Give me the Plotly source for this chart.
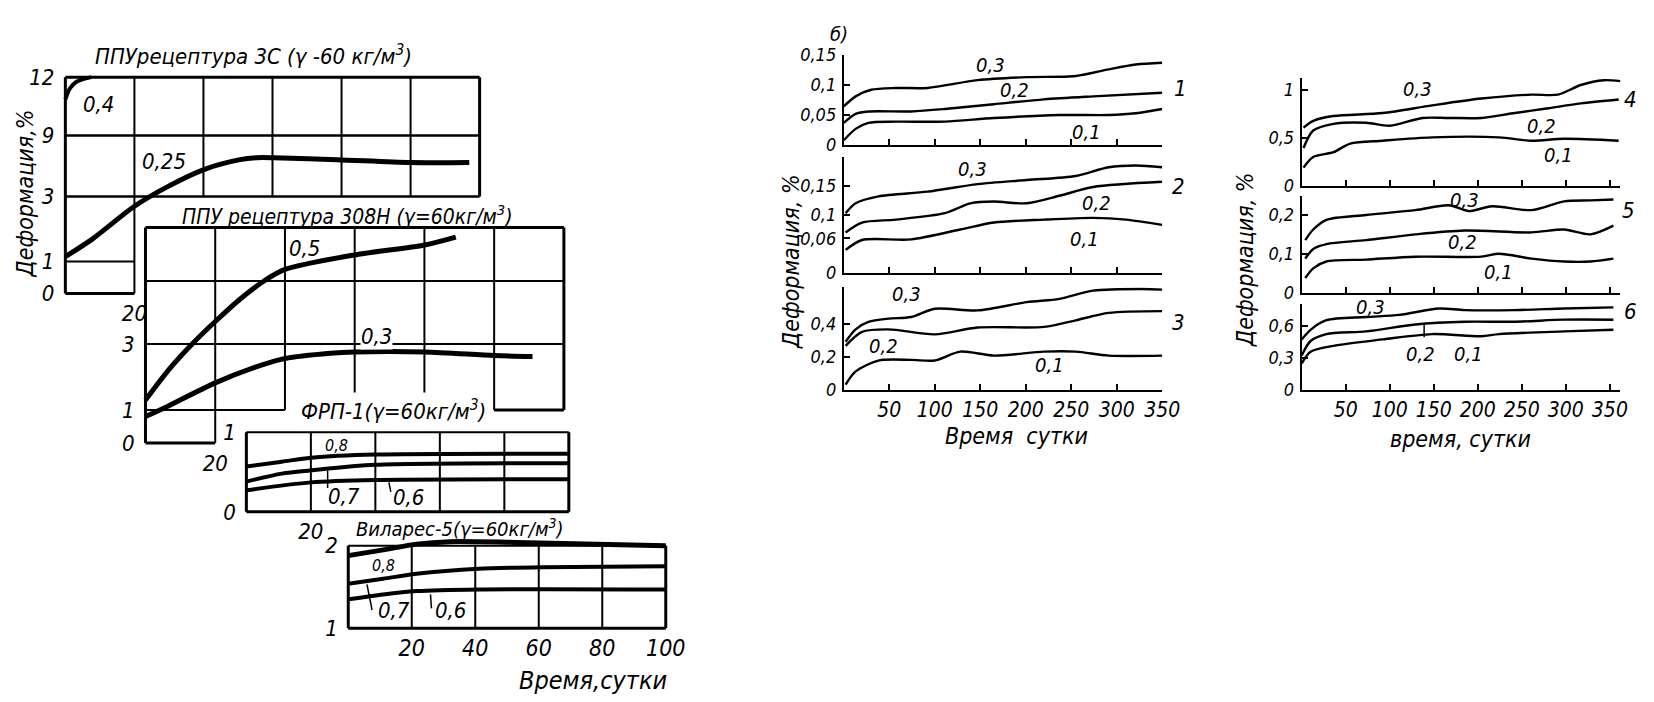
import numpy as np
import plotly.graph_objects as go

W, H = 1654, 702
FONT = "DejaVu Sans Condensed, DejaVu Sans, sans-serif"

# ---------------- data ----------------
# (a) ППУ рецептура 3С : nonlinear deformation scale
A_yticks = [0, 1, 3, 9, 12]
A_ytick_pos = [0, 1, 3.03, 4.94, 6.76]
A_days_04 = [0, 1.25, 3.1, 7.5]
A_def_04 = [10.85, 11.4, 11.75, 12.0]
A_days_025 = [0, 7.8, 20, 29.5, 40.3, 50.6, 55.4, 60.3, 78.6, 100, 117]
A_def_025 = [1.15, 1.69, 2.70, 3.95, 5.67, 6.62, 6.81, 6.81, 6.62, 6.33, 6.33]

# ППУ рецептура 308Н
B_yticks = [0, 1, 3]
B_days_05 = [0, 7, 13.4, 20, 27, 34, 40, 60, 80, 89]
B_def_05 = [1.3, 2.26, 3.0, 3.68, 4.35, 4.91, 5.26, 5.7, 6.0, 6.24]
B_days_03 = [0, 6, 20, 33, 40, 53, 60, 80, 100, 111]
B_def_03 = [0.8, 1.09, 1.82, 2.35, 2.56, 2.72, 2.76, 2.76, 2.65, 2.62]

# ФРП-1
C_yticks = [0, 1]
C_days_08 = [0, 11, 20, 40, 100]
C_def_08 = [0.57, 0.63, 0.68, 0.72, 0.73]
C_days_07 = [0, 11, 20, 40, 100]
C_def_07 = [0.38, 0.48, 0.52, 0.59, 0.61]
C_days_06 = [0, 20, 40, 100]
C_def_06 = [0.27, 0.37, 0.40, 0.41]

# Виларес-5
D_yticks = [1, 2]
D_xticks = [20, 40, 60, 80, 100]
D_days_08 = [0, 11, 21.5, 32, 53, 100]
D_def_08 = [1.88, 1.95, 2.02, 2.05, 2.04, 2.0]
D_days_07 = [0, 11, 21.5, 41, 61, 100]
D_def_07 = [1.54, 1.6, 1.66, 1.72, 1.74, 1.75]
D_days_06 = [0, 11, 21.5, 41, 100]
D_def_06 = [1.35, 1.41, 1.45, 1.47, 1.47]

# (б) panels 1..6, load 0.3 / 0.2 / 0.1
p1_d03 = [0, 13, 30, 57, 92, 147, 201, 255, 291, 321, 350]
p1_v03 = [0.0645, 0.081, 0.092, 0.095, 0.095, 0.108, 0.113, 0.115, 0.126, 0.134, 0.137]
p1_d02 = [0, 13, 27, 74, 111, 165, 220, 274, 350]
p1_v02 = [0.037, 0.052, 0.056, 0.056, 0.06, 0.068, 0.076, 0.081, 0.087]
p1_d01 = [0, 13, 27, 57, 111, 165, 237, 291, 321, 350]
p1_v01 = [0.008, 0.027, 0.037, 0.039, 0.039, 0.045, 0.05, 0.05, 0.053, 0.06]

p2_d03 = [2, 13, 38, 92, 147, 201, 255, 291, 321, 350]
p2_v03 = [0.103, 0.12, 0.132, 0.14, 0.153, 0.16, 0.167, 0.182, 0.185, 0.182]
p2_d02 = [2, 20, 57, 111, 139, 165, 201, 237, 274, 350]
p2_v02 = [0.07, 0.087, 0.092, 0.103, 0.12, 0.123, 0.12, 0.133, 0.148, 0.157]
p2_d01 = [2, 20, 74, 128, 165, 220, 274, 310, 350]
p2_v01 = [0.04, 0.057, 0.058, 0.075, 0.087, 0.092, 0.095, 0.092, 0.083]

p3_d03 = [2, 13, 27, 49, 74, 100, 147, 201, 237, 274, 328, 350]
p3_v03 = [0.29, 0.365, 0.41, 0.43, 0.44, 0.49, 0.48, 0.53, 0.55, 0.6, 0.61, 0.606]
p3_d02 = [2, 20, 49, 100, 147, 220, 255, 291, 350]
p3_v02 = [0.265, 0.35, 0.365, 0.335, 0.376, 0.38, 0.42, 0.465, 0.476]
p3_d01 = [2, 13, 38, 74, 100, 128, 165, 220, 255, 291, 350]
p3_v01 = [0.03, 0.11, 0.176, 0.18, 0.176, 0.23, 0.206, 0.23, 0.23, 0.206, 0.206]

p4_d03 = [2, 13, 36, 92, 148, 204, 261, 291, 317, 343, 362]
p4_v03 = [0.606, 0.677, 0.727, 0.758, 0.838, 0.909, 0.95, 0.95, 1.05, 1.10, 1.09]
p4_d02 = [2, 13, 36, 73, 100, 137, 167, 204, 242, 280, 317, 360]
p4_v02 = [0.394, 0.576, 0.646, 0.657, 0.626, 0.707, 0.707, 0.707, 0.758, 0.808, 0.859, 0.899]
p4_d01 = [2, 13, 36, 55, 92, 148, 224, 261, 298, 360]
p4_v01 = [0.19, 0.30, 0.35, 0.44, 0.47, 0.505, 0.505, 0.47, 0.49, 0.47]

p5_d03 = [4, 13, 28, 73, 129, 167, 190, 216, 261, 298, 328, 354]
p5_v03 = [0.135, 0.1625, 0.1875, 0.2, 0.2125, 0.225, 0.21, 0.2225, 0.2125, 0.235, 0.2375, 0.24]
p5_d02 = [4, 13, 28, 73, 129, 185, 261, 298, 328, 354]
p5_v02 = [0.0875, 0.1125, 0.125, 0.135, 0.15, 0.16, 0.155, 0.1625, 0.15, 0.1725]
p5_d01 = [4, 13, 28, 73, 129, 204, 224, 261, 298, 328, 354]
p5_v01 = [0.0375, 0.0625, 0.08, 0.085, 0.0925, 0.0925, 0.1, 0.0875, 0.08, 0.08, 0.0875]

p6_d03 = [0, 10, 28, 73, 111, 156, 185, 242, 298, 354]
p6_v03 = [0.47, 0.56, 0.65, 0.68, 0.70, 0.76, 0.745, 0.745, 0.76, 0.77]
p6_d02 = [0, 10, 28, 73, 129, 185, 242, 298, 354]
p6_v02 = [0.32, 0.455, 0.52, 0.545, 0.61, 0.636, 0.636, 0.655, 0.655]
p6_d01 = [0, 10, 36, 92, 148, 204, 224, 298, 354]
p6_v01 = [0.245, 0.355, 0.41, 0.47, 0.52, 0.50, 0.52, 0.545, 0.56]

right_xticks = [50, 100, 150, 200, 250, 300, 350]

# ---------------- helpers ----------------
def xdom(pix, v0, ppu, r0, r1):
    return [(pix + (r0 - v0) * ppu) / W, (pix + (r1 - v0) * ppu) / W]

def ydom(pix, v0, ppu, r0, r1):
    return [1 - (pix - (r0 - v0) * ppu) / H, 1 - (pix - (r1 - v0) * ppu) / H]

def a_pos(v):
    return np.interp(v, A_yticks, A_ytick_pos)

def fmt(v):
    return ("%g" % v).replace(".", ",")

fig = go.Figure()
layout = {}
shapes = []
annotations = []

def line_trace(i, xs, ys, w):
    fig.add_trace(go.Scatter(
        x=xs, y=ys, mode="lines",
        line=dict(color="black", width=w, shape="spline", smoothing=0.8),
        xaxis="x" if i == 1 else "x%d" % i,
        yaxis="y" if i == 1 else "y%d" % i,
        showlegend=False, hoverinfo="skip"))

def seg(i, x0, y0, x1, y1, w=2):
    shapes.append(dict(type="line", xref="x" if i == 1 else "x%d" % i,
                       yref="y" if i == 1 else "y%d" % i,
                       x0=x0, y0=y0, x1=x1, y1=y1,
                       line=dict(color="black", width=w)))

def ann(text, px, py, size=18, angle=0, bg=None):
    d = dict(text=text, x=px / W, y=1 - py / H, xref="paper", yref="paper",
             showarrow=False, xanchor="center", yanchor="middle", textangle=angle,
             font=dict(family=FONT, size=size, color="black", style="italic"))
    if bg:
        d["bgcolor"] = bg
        d["borderpad"] = 0
    annotations.append(d)

def set_axes(i, xd, yd, xr, yr, xtv, xtt, ytv, ytt, right=False,
             showx=True, xfs=20, yfs=20):
    xk = "xaxis" if i == 1 else "xaxis%d" % i
    yk = "yaxis" if i == 1 else "yaxis%d" % i
    common = dict(showgrid=False, zeroline=False, fixedrange=True)
    xa = dict(domain=xd, range=xr, anchor="y" if i == 1 else "y%d" % i,
              tickvals=xtv, ticktext=xtt, showticklabels=showx,
              tickfont=dict(family=FONT, size=xfs, color="black", style="italic"),
              **common)
    ya = dict(domain=yd, range=yr, anchor="x" if i == 1 else "x%d" % i,
              tickvals=ytv, ticktext=ytt,
              tickfont=dict(family=FONT, size=yfs, color="black", style="italic"),
              **common)
    if right:
        for a in (xa, ya):
            a.update(showline=True, linecolor="black", linewidth=2,
                     ticks="inside", ticklen=6, tickwidth=1.5, tickcolor="black")
        ya["ticklabelstandoff"] = 2
    else:
        for a in (xa, ya):
            a.update(showline=False, ticks="")
        ya["ticklabelstandoff"] = 3
    layout[xk] = xa
    layout[yk] = ya

# ---------------- panel A ----------------
set_axes(1, xdom(58, 0, 3.49, -2, 122), ydom(283, 0, 33, -0.15, 6.95),
         [-2, 122], [-0.15, 6.95], [20], ["20"],
         list(a_pos(A_yticks)), [str(v) for v in A_yticks], xfs=22, yfs=22)
A_xgrid = [0, 20, 40, 60, 80, 100, 120]
for xg in A_xgrid:
    lo = 0 if xg <= 20 else 3
    seg(1, xg, a_pos(lo), xg, a_pos(12), 3 if xg in (0, 120) else 2)
for yg in [12, 9, 3]:
    seg(1, 0, a_pos(yg), 120, a_pos(yg), 3 if yg == 12 else 2.5)
seg(1, 0, a_pos(1), 20, a_pos(1), 2)
seg(1, 0, a_pos(0), 20, a_pos(0), 3)
line_trace(1, A_days_04, a_pos(A_def_04), 4)
line_trace(1, A_days_025, a_pos(A_def_025), 5)

# ---------------- panel B ----------------
B_ygrid = [0, 1, 3, 4.91, 6.53]
set_axes(2, xdom(139, 0, 3.525, -2, 122), ydom(437, 0, 34, -0.15, 6.7),
         [-2, 122], [-0.15, 6.7], [20], ["20"],
         B_yticks, [str(v) for v in B_yticks], xfs=22, yfs=22)
B_vlow = {0: 0, 20: 0, 40: 1, 60: 1.53, 80: 1.53, 100: 1, 120: 1}
for xg, lo in B_vlow.items():
    seg(2, xg, lo, xg, B_ygrid[-1], 3 if xg in (0, 120) else 2)
for yg in B_ygrid[2:]:
    seg(2, 0, yg, 120, yg, 3 if yg == B_ygrid[-1] else 2)
seg(2, 0, 1, 40, 1, 2)
seg(2, 100, 1, 120, 1, 3)
seg(2, 0, 0, 20, 0, 3)
line_trace(2, B_days_05, B_def_05, 5)
line_trace(2, B_days_03, B_def_03, 5)

# ---------------- panel C ----------------
set_axes(3, xdom(241, 0, 3.26, -2, 102), ydom(508, 0, 82, -0.05, 1.05),
         [-2, 102], [-0.05, 1.05], [20], ["20"],
         C_yticks, [str(v) for v in C_yticks], xfs=22, yfs=22)
for xg in [0, 20, 40, 60, 80, 100]:
    seg(3, xg, 0, xg, 1, 3 if xg in (0, 100) else 2)
seg(3, 0, 0, 100, 0, 3)
seg(3, 0, 1, 100, 1, 2)
line_trace(3, C_days_08, C_def_08, 4)
line_trace(3, C_days_07, C_def_07, 4)
line_trace(3, C_days_06, C_def_06, 4)
seg(3, 25.2, 0.52, 25.2, 0.30, 1.5)
seg(3, 44.2, 0.37, 44.8, 0.25, 1.5)

# ---------------- panel D ----------------
set_axes(4, xdom(344, 0, 3.21, -2, 102), ydom(628, 1, 85, 0.95, 2.1),
         [-2, 102], [0.95, 2.1], D_xticks, [str(v) for v in D_xticks],
         D_yticks, [str(v) for v in D_yticks], xfs=23, yfs=22)
for xg in [0, 20, 40, 60, 80, 100]:
    seg(4, xg, 1, xg, 2, 3 if xg in (0, 100) else 2)
seg(4, 0, 1, 100, 1, 3)
seg(4, 0, 2, 100, 2, 2)
line_trace(4, D_days_08, D_def_08, 5)
line_trace(4, D_days_07, D_def_07, 4)
line_trace(4, D_days_06, D_def_06, 4)
seg(4, 5.9, 1.53, 7.5, 1.22, 1.5)
seg(4, 25.9, 1.41, 26.2, 1.24, 1.5)

# ---------------- right panels ----------------
right = [
    (5, 845, 0.92, 350, 130, 620, 0.15, [0, 0.05, 0.1, 0.15], False,
     [(p1_d03, p1_v03), (p1_d02, p1_v02), (p1_d01, p1_v01)]),
    (6, 845, 0.92, 350, 262, 600, 0.2, [0, 0.06, 0.1, 0.15], False,
     [(p2_d03, p2_v03), (p2_d02, p2_v02), (p2_d01, p2_v01)]),
    (7, 845, 0.92, 350, 382, 170, 0.62, [0, 0.2, 0.4], True,
     [(p3_d03, p3_v03), (p3_d02, p3_v02), (p3_d01, p3_v01)]),
    (8, 1308, 0.89, 362, 172, 99, 1.12, [0, 0.5, 1], False,
     [(p4_d03, p4_v03), (p4_d02, p4_v02), (p4_d01, p4_v01)]),
    (9, 1308, 0.89, 362, 282, 400, 0.25, [0, 0.1, 0.2], False,
     [(p5_d03, p5_v03), (p5_d02, p5_v02), (p5_d01, p5_v01)]),
    (10, 1308, 0.89, 362, 382, 110, 0.8, [0, 0.3, 0.6], True,
     [(p6_d03, p6_v03), (p6_d02, p6_v02), (p6_d01, p6_v01)]),
]
for i, x0p, xppu, xmax, y0p, yppu, ymax, yt, showx, curves in right:
    set_axes(i, xdom(x0p, 0, xppu, 0, xmax), ydom(y0p, 0, yppu, 0, ymax),
             [0, xmax], [0, ymax], right_xticks, [str(v) for v in right_xticks],
             yt, [fmt(v) for v in yt], right=True, showx=showx, xfs=21, yfs=18)
    for xs, ys in curves:
        line_trace(i, xs, ys, 2.4)
seg(10, 139, 0.61, 139, 0.49, 1.5)

# ---------------- texts ----------------
ann("ППУрецептура 3С (γ -60 кг/м<sup>3</sup>)", 248, 37, 22)
ann("ППУ рецептура 308Н (γ=60кг/м<sup>3</sup>)", 343, 202, 21)
ann("ФРП-1(γ=60кг/м<sup>3</sup>)", 390, 403, 22)
ann("Виларес-5(γ=60кг/м<sup>3</sup>)", 457, 525, 20)
ann("Деформация,%", 17, 180, 23, -90)
ann("Время,сутки", 591, 682, 25)
ann("б)", 840, 15, 20)
ann("Деформация, %", 791, 250, 23, -90)
ann("Время  сутки", 1020, 430, 23)
ann("Деформация, %", 1250, 248, 23, -90)
ann("время, сутки", 1468, 433, 23)

for t, x, y, s in [("0,4", 92, 88, 22), ("0,25", 158, 147, 22), ("0,5", 300, 237, 22),
                   ("0,8", 332, 440, 16), ("0,7", 340, 492, 22), ("0,6", 405, 493, 22),
                   ("0,8", 380, 563, 16), ("0,7", 390, 610, 22), ("0,6", 447, 610, 22)]:
    ann(t, x, y, s)
ann("0,3", 373, 327, 22, bg="white")

for t, x, y in [("0,3", 993, 47), ("0,2", 1018, 73), ("0,1", 1090, 117),
                ("0,3", 975, 155), ("0,2", 1100, 190), ("0,1", 1088, 227),
                ("0,3", 908, 283), ("0,2", 885, 337), ("0,1", 1053, 357),
                ("0,3", 1425, 72), ("0,2", 1550, 110), ("0,1", 1568, 140),
                ("0,3", 1473, 187), ("0,2", 1470, 230), ("0,1", 1507, 261),
                ("0,3", 1377, 297), ("0,2", 1428, 345), ("0,1", 1477, 345)]:
    ann(t, x, y, 20)
for t, x, y in [("1", 1185, 72), ("2", 1183, 173), ("3", 1183, 313),
                ("4", 1640, 83), ("5", 1638, 197), ("6", 1640, 302)]:
    ann(t, x, y, 22)

fig.update_layout(
    width=W, height=H, margin=dict(l=0, r=0, t=0, b=0),
    paper_bgcolor="white", plot_bgcolor="rgba(0,0,0,0)",
    showlegend=False, shapes=shapes, annotations=annotations,
    font=dict(family=FONT, color="black"),
    **layout)

fig.write_html("out.html")
